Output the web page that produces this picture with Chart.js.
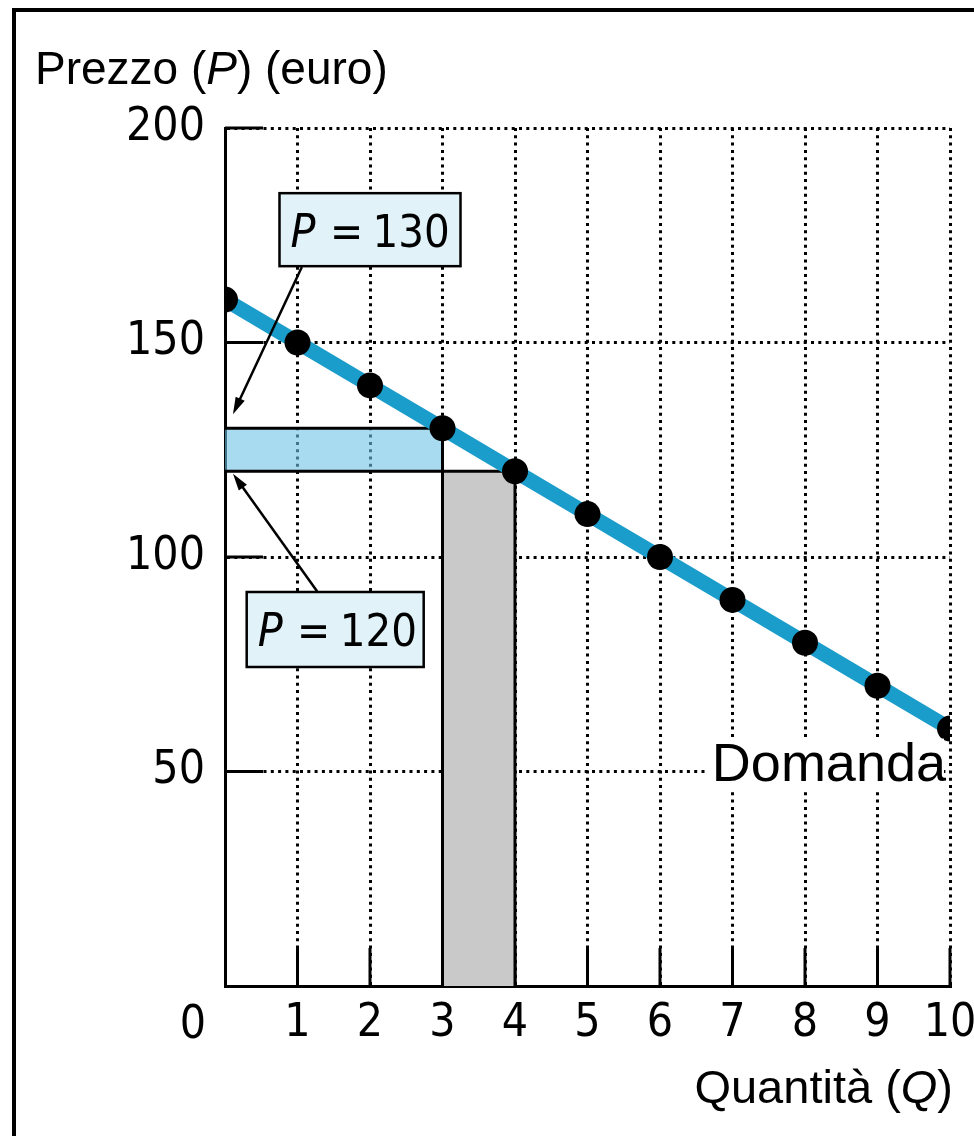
<!DOCTYPE html>
<html>
<head>
<meta charset="utf-8">
<script src="https://cdn.jsdelivr.net/npm/chart.js@4.4.1/dist/chart.umd.min.js"></script>
<style>
html,body{margin:0;padding:0;background:#fff;}
#wrap{position:relative;width:974px;height:1136px;overflow:hidden;}
#frame{position:absolute;left:12px;top:8px;width:1000px;height:1200px;border-left:4px solid #000;border-top:4px solid #000;}
canvas{position:absolute;left:0;top:0;}
</style>
</head>
<body>
<div id="wrap">
<div id="frame"></div>
<canvas id="chart" width="974" height="1136"></canvas>
</div>
<script>

/* dati: curva di domanda */
let quantita = [0, 1, 2, 3, 4, 5, 6, 7, 8, 9, 10];
let prezzo = [160, 150, 140, 130, 120, 110, 100, 90, 80, 70, 60];

/* tick */
let xTicks = [0, 1, 2, 3, 4, 5, 6, 7, 8, 9, 10];
let yTicks = [0, 50, 100, 150, 200];

/* i due prezzi evidenziati */
let prezzoAlto = 130, qAlto = 3;
let prezzoBasso = 120, qBasso = 4;

let narrow = "'Liberation Sans Narrow', 'DejaVu Sans Condensed', sans-serif";
let sans = "'Liberation Sans', Arial, sans-serif";

function pts(xs, ys){
  return xs.map((x, i) => ({x: x, y: ys[i]}));
}

/* testo a pezzi (corsivo / normale) */
function drawPieces(ctx, pieces, x, y, align){
  let total = 0;
  pieces.forEach(p => { ctx.font = p.font; total += ctx.measureText(p.t).width; });
  let cx = align === "right" ? x - total : x;
  ctx.textAlign = "left";
  ctx.textBaseline = "alphabetic";
  pieces.forEach(p => {
    ctx.font = p.font;
    ctx.fillText(p.t, cx, y);
    cx += ctx.measureText(p.t).width;
  });
}

function arrow(ctx, x1, y1, x2, y2){
  let a = Math.atan2(y2 - y1, x2 - x1);
  let len = 17, w = 5;
  ctx.save();
  ctx.strokeStyle = "#000";
  ctx.fillStyle = "#000";
  ctx.lineWidth = 2.5;
  ctx.beginPath();
  ctx.moveTo(x1, y1);
  ctx.lineTo(x2 - Math.cos(a) * len * 0.8, y2 - Math.sin(a) * len * 0.8);
  ctx.stroke();
  ctx.beginPath();
  ctx.moveTo(x2, y2);
  ctx.lineTo(x2 - Math.cos(a) * len + Math.sin(a) * w, y2 - Math.sin(a) * len - Math.cos(a) * w);
  ctx.lineTo(x2 - Math.cos(a) * len - Math.sin(a) * w, y2 - Math.sin(a) * len + Math.cos(a) * w);
  ctx.closePath();
  ctx.fill();
  ctx.restore();
}

function callout(ctx, cx, cy, w, h, valore){
  let left = cx - w / 2, top = cy - h / 2;
  ctx.save();
  ctx.fillStyle = "#e2f2f9";
  ctx.fillRect(left, top, w, h);
  ctx.strokeStyle = "#000";
  ctx.lineWidth = 2.5;
  ctx.strokeRect(left, top, w, h);
  ctx.fillStyle = "#000";
  ctx.textBaseline = "alphabetic";
  ctx.textAlign = "left";
  ctx.font = "italic 46px " + narrow;
  ctx.fillText("P", left + 11, top + 54);
  ctx.font = "44px " + narrow;
  ctx.textAlign = "center";
  ctx.fillText("=", left + 67, top + 54);
  ctx.textAlign = "left";
  ctx.font = "45px " + narrow;
  ctx.fillText(String(valore), left + 93, top + 54);
  ctx.restore();
}

const extras = {
  id: "extras",
  beforeDatasetsDraw(chart){
    let ctx = chart.ctx, xs = chart.scales.x, ys = chart.scales.y;
    let a = chart.chartArea;
    ctx.save();
    ctx.strokeStyle = "#000";
    ctx.lineWidth = 3;
    /* tick interni */
    yTicks.forEach(v => {
      if(v === 0) return;
      let py = ys.getPixelForValue(v);
      ctx.beginPath(); ctx.moveTo(a.left, py); ctx.lineTo(a.left + 38, py); ctx.stroke();
    });
    xTicks.forEach(v => {
      if(v === 0) return;
      let px = xs.getPixelForValue(v);
      ctx.beginPath(); ctx.moveTo(px, a.bottom); ctx.lineTo(px, a.bottom - 38); ctx.stroke();
    });
    ctx.restore();
  },
  afterDraw(chart){
    let ctx = chart.ctx, xs = chart.scales.x, ys = chart.scales.y;
    let a = chart.chartArea;
    ctx.save();
    ctx.fillStyle = "#000";

    /* titolo asse y */
    drawPieces(ctx, [
      {t: "Prezzo (", font: "46px " + sans},
      {t: "P", font: "italic 46px " + sans},
      {t: ") (euro)", font: "46px " + sans}
    ], 35, 84, "left");

    /* titolo asse x */
    drawPieces(ctx, [
      {t: "Quantità (", font: "47px " + sans},
      {t: "Q", font: "italic 47px " + sans},
      {t: ")", font: "47px " + sans}
    ], 953, 1103, "right");

    /* zero dell'origine */
    ctx.font = "46px " + narrow;
    ctx.textAlign = "center";
    ctx.textBaseline = "middle";
    ctx.fillText("0", xs.getPixelForValue(0) - 32, a.bottom + 40);

    /* etichetta curva, con fondo bianco sopra la griglia */
    let last = quantita.length - 1;
    let lx = xs.getPixelForValue(quantita[last]) - 4;
    let ly = ys.getPixelForValue(prezzo[last]) + 52;
    ctx.font = "54px " + sans;
    let tw = ctx.measureText("Domanda").width;
    ctx.fillStyle = "#fff";
    ctx.fillRect(lx - tw - 4, ly - 42, tw + 2, 50);
    ctx.fillStyle = "#000";
    ctx.textAlign = "right";
    ctx.textBaseline = "alphabetic";
    ctx.fillText("Domanda", lx, ly);

    /* riquadri e frecce */
    callout(ctx, xs.getPixelForValue(2.0), ys.getPixelForValue(176.3), 181, 73, prezzoAlto);
    callout(ctx, xs.getPixelForValue(1.52), ys.getPixelForValue(83.1), 177, 75, prezzoBasso);
    arrow(ctx, xs.getPixelForValue(1.06), ys.getPixelForValue(167.6), xs.getPixelForValue(0.11), ys.getPixelForValue(prezzoAlto + 3.3));
    arrow(ctx, xs.getPixelForValue(1.27), ys.getPixelForValue(92.0), xs.getPixelForValue(0.11), ys.getPixelForValue(prezzoBasso - 0.6));
    ctx.restore();
  }
};

let helper = {showLine: true, pointRadius: 0, tension: 0, borderColor: "#000", borderWidth: 3, fill: false};

new Chart(document.getElementById("chart"), {
  type: "scatter",
  data: {
    datasets: [
      {
        label: "Domanda",
        data: pts(quantita, prezzo),
        showLine: true,
        borderColor: "#1b9dcb",
        borderWidth: 15,
        pointRadius: 13,
        pointBorderWidth: 0,
        pointBackgroundColor: "#000",
        tension: 0
      },
      Object.assign({}, helper, {data: pts([qAlto, qAlto], [prezzoAlto, 0])}),
      Object.assign({}, helper, {data: pts([qBasso, qBasso], [prezzoBasso, 0])}),
      Object.assign({}, helper, {data: pts([0, qBasso], [prezzoBasso, prezzoBasso])}),
      Object.assign({}, helper, {data: pts([0, qAlto], [prezzoAlto, prezzoAlto]), fill: "+1", backgroundColor: "rgba(110,195,228,0.6)"}),
      Object.assign({}, helper, {data: pts([0, qAlto], [prezzoBasso, prezzoBasso]), borderWidth: 0}),
      Object.assign({}, helper, {data: pts([qAlto, qBasso], [prezzoBasso, prezzoBasso]), borderWidth: 0, fill: "origin", backgroundColor: "#c9c9c9"})
    ]
  },
  options: {
    responsive: false,
    animation: false,
    layout: {padding: {left: 0, right: 24, top: 128, bottom: 0}},
    plugins: {legend: {display: false}, tooltip: {enabled: false}},
    scales: {
      x: {
        type: "linear", min: 0, max: 10,
        afterBuildTicks: s => { s.ticks = xTicks.map(v => ({value: v})); },
        afterFit: s => { s.height = 150; s.paddingLeft = 0; s.paddingRight = 0; },
        ticks: {
          callback: v => v === 0 ? "" : String(v),
          color: "#000", padding: 10, maxRotation: 0, autoSkip: false,
          font: {family: narrow, size: 46}
        },
        grid: {color: c => c.tick && c.tick.value === 0 ? "rgba(0,0,0,0)" : "#000", lineWidth: 3, drawTicks: false},
        border: {display: true, color: "#000", width: 3, dash: [3, 4.3]}
      },
      y: {
        min: 0, max: 200,
        afterBuildTicks: s => { s.ticks = yTicks.map(v => ({value: v})); },
        afterFit: s => { s.width = 225; s.paddingTop = 0; s.paddingBottom = 0; },
        ticks: {
          callback: v => v === 0 ? "" : String(v),
          color: "#000", padding: 20,
          font: {family: narrow, size: 46}
        },
        grid: {color: c => c.tick && c.tick.value === 0 ? "rgba(0,0,0,0)" : "#000", lineWidth: 3, drawTicks: false},
        border: {display: true, color: "#000", width: 3, dash: [3, 4.3]}
      }
    }
  },
  plugins: [extras]
});

</script>
</body>
</html>
